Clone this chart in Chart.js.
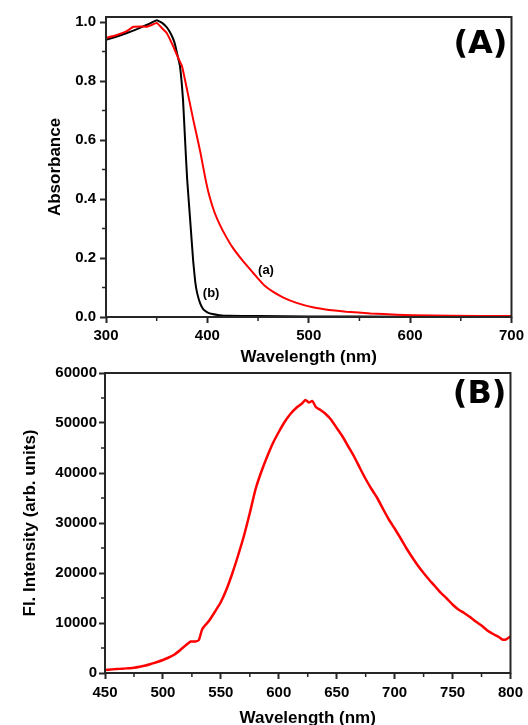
<!DOCTYPE html>
<html lang="en">
<head>
<meta charset="UTF-8">
<title>Absorbance and fluorescence</title>
<script src="https://cdn.jsdelivr.net/npm/chart.js"></script>
<style>
  body { margin: 0; background: #fff; width: 528px; height: 725px; overflow: hidden; position: relative; }
  .painel { position: absolute; left: 0; width: 528px; }
  #painelA { top: 0; }
  #painelB { top: 360px; }
</style>
</head>
<body>
<div class="painel" id="painelA"><canvas id="graficoA" width="528" height="375"></canvas></div>
<div class="painel" id="painelB"><canvas id="graficoB" width="528" height="380"></canvas></div>

<script>
// (A) curva (a) - vermelha
const ondaA_a = [300, 310, 320, 327, 335, 340, 345, 350, 355, 360, 366, 371, 375, 380, 386, 393, 398, 402, 407, 412, 418, 425, 435, 445, 450, 456, 465, 475, 488, 505, 520, 537, 561, 587, 603, 640, 700];
const absA_a  = [0.946, 0.955, 0.968, 0.984, 0.985, 0.984, 0.990, 0.997, 0.980, 0.962, 0.920, 0.880, 0.850, 0.770, 0.670, 0.560, 0.470, 0.410, 0.355, 0.315, 0.275, 0.235, 0.190, 0.150, 0.130, 0.108, 0.085, 0.066, 0.048, 0.032, 0.024, 0.018, 0.012, 0.008, 0.006, 0.004, 0.003];

// (A) curva (b) - preta
const ondaA_b = [300, 310, 320, 330, 340, 345, 350, 355, 360, 363, 366, 368, 370, 373, 376, 378, 380, 383, 386, 388, 390, 393, 396, 400, 405, 412, 420, 450, 500, 600, 700];
const absA_b  = [0.940, 0.950, 0.962, 0.975, 0.990, 0.998, 1.006, 0.998, 0.982, 0.966, 0.945, 0.925, 0.895, 0.850, 0.735, 0.600, 0.470, 0.330, 0.190, 0.120, 0.080, 0.045, 0.026, 0.016, 0.010, 0.006, 0.004, 0.003, 0.002, 0.001, 0.001];

// (B) fluorescencia
const ondaB = [450, 455, 460, 465, 470, 475, 480, 485, 490, 495, 500, 505, 510, 515, 520, 524, 528, 531, 534, 540, 545, 550, 555, 560, 565, 570, 575, 580, 585, 590, 595, 600, 605, 610, 615, 620, 623, 626, 629, 632, 636, 640, 645, 650, 655, 660, 665, 670, 675, 680, 685, 690, 695, 700, 705, 710, 715, 720, 725, 730, 735, 740, 745, 750, 755, 760, 765, 770, 775, 780, 785, 790, 793, 796, 800];
const intensB = [600, 700, 800, 850, 950, 1050, 1250, 1500, 1850, 2200, 2600, 3100, 3700, 4600, 5600, 6300, 6300, 6600, 8800, 10500, 12300, 14200, 16800, 20000, 23600, 27500, 32000, 36800, 40300, 43300, 46000, 48200, 50200, 51800, 53000, 53900, 54600, 54100, 54400, 53200, 52600, 51900, 50700, 49000, 47300, 45300, 43300, 41000, 38800, 36800, 35000, 32800, 30700, 28900, 27000, 25000, 23200, 21500, 20000, 18600, 17300, 16000, 14900, 13700, 12700, 12000, 11200, 10300, 9500, 8500, 7800, 7200, 6700, 6700, 7300];

// eixos
const xTicksA = { min: 300, max: 700, passo: 100 };
const yTicksA = { min: 0, max: 1.017, passo: 0.2 };
const xTicksB = { min: 450, max: 800, passo: 50 };
const yTicksB = { min: 0, max: 60000, passo: 10000 };

const fonteTick = { family: 'Liberation Sans', size: 15, weight: 'bold' };
const fonteTitulo = { family: 'Liberation Sans', size: 17, weight: 'bold' };
const corEixo = '#262626';

function pares(xs, ys) {
    return xs.map((v, i) => ({ x: v, y: ys[i] }));
}

function menores(t) {
    let lista = [];
    for (let v = t.min + t.passo / 2; v < t.max; v += t.passo) lista.push(v);
    return lista;
}

// moldura, ticks menores, letra do painel e rotulos das curvas
const moldura = {
    id: 'moldura',
    afterDraw(chart, args, opts) {
        const { ctx, chartArea: a, scales: { x, y } } = chart;
        ctx.save();
        ctx.strokeStyle = corEixo;
        ctx.lineWidth = 2;
        ctx.strokeRect(a.left, a.top, a.right - a.left, a.bottom - a.top);

        ctx.lineWidth = 1.5;
        ctx.beginPath();
        menores(opts.tx).forEach(v => {
            const px = x.getPixelForValue(v);
            ctx.moveTo(px, a.bottom);
            ctx.lineTo(px, a.bottom + 4);
        });
        menores(opts.ty).forEach(v => {
            const py = y.getPixelForValue(v);
            ctx.moveTo(a.left, py);
            ctx.lineTo(a.left - 4, py);
        });
        ctx.stroke();

        ctx.fillStyle = '#000';
        ctx.font = 'bold 32px "DejaVu Sans"';
        ctx.textAlign = 'right';
        ctx.textBaseline = 'alphabetic';
        ctx.fillText(opts.letra, a.right - 4, a.top + opts.baseLetra);

        ctx.font = 'bold 13px "Liberation Sans"';
        ctx.textAlign = 'left';
        ctx.textBaseline = 'middle';
        (opts.rotulos || []).forEach(r => {
            ctx.fillText(r.texto, x.getPixelForValue(r.x), y.getPixelForValue(r.y));
        });
        ctx.restore();
    }
};

function escalas(tx, ty, cfg) {
    return {
        x: {
            type: 'linear', min: tx.min, max: tx.max,
            ticks: { stepSize: tx.passo, font: fonteTick, color: '#000', padding: cfg.padX, maxRotation: 0 },
            grid: { drawOnChartArea: false, tickLength: 6, tickColor: corEixo, tickWidth: 2 },
            border: { display: false },
            title: { display: true, text: 'Wavelength (nm)', font: fonteTitulo, color: '#000', padding: { top: 0, bottom: cfg.tituloX } },
            afterFit: s => { s.height = cfg.altX; }
        },
        y: {
            type: 'linear', min: ty.min, max: ty.max,
            ticks: { stepSize: ty.passo, includeBounds: false, font: fonteTick, color: '#000', padding: cfg.padY, callback: cfg.fmtY },
            grid: { drawOnChartArea: false, tickLength: 6, tickColor: corEixo, tickWidth: 2 },
            border: { display: false },
            title: { display: true, text: cfg.tituloY, font: fonteTitulo, color: '#000', padding: { top: cfg.tituloYPad, bottom: 0 } },
            afterFit: s => { s.width = cfg.largY; }
        }
    };
}

new Chart(document.getElementById('graficoA'), {
    type: 'line',
    data: {
        datasets: [
            { label: '(a)', data: pares(ondaA_a, absA_a), borderColor: '#ff0000', borderWidth: 2, pointRadius: 0, tension: 0.1 },
            { label: '(b)', data: pares(ondaA_b, absA_b), borderColor: '#000000', borderWidth: 2, pointRadius: 0, tension: 0.1 }
        ]
    },
    options: {
        responsive: false,
        animation: false,
        layout: { padding: { top: 17, right: 16, left: 0, bottom: 0 } },
        scales: escalas(xTicksA, yTicksA, {
            padX: 4, padY: 4, altX: 58, largY: 106, tituloX: 7,
            tituloY: 'Absorbance', tituloYPad: 45,
            fmtY: v => v.toFixed(1)
        }),
        plugins: {
            legend: { display: false },
            tooltip: { enabled: false },
            moldura: {
                tx: xTicksA, ty: { min: 0, max: 1.0, passo: 0.2 }, letra: '(A)', baseLetra: 36,
                rotulos: [{ texto: '(a)', x: 450, y: 0.159 }, { texto: '(b)', x: 395.5, y: 0.081 }]
            }
        }
    },
    plugins: [moldura]
});

new Chart(document.getElementById('graficoB'), {
    type: 'line',
    data: {
        datasets: [
            { label: 'FL', data: pares(ondaB, intensB), borderColor: '#ff0000', borderWidth: 2.5, pointRadius: 0, tension: 0.2 }
        ]
    },
    options: {
        responsive: false,
        animation: false,
        layout: { padding: { top: 13, right: 17, left: 0, bottom: 0 } },
        scales: escalas(xTicksB, yTicksB, {
            padX: 5, padY: 2, altX: 67, largY: 105, tituloX: 11,
            tituloY: 'Fl. Intensity (arb. units)', tituloYPad: 20,
            fmtY: v => String(v)
        }),
        plugins: {
            legend: { display: false },
            tooltip: { enabled: false },
            moldura: { tx: xTicksB, ty: yTicksB, letra: '(B)', baseLetra: 30 }
        }
    },
    plugins: [moldura]
});
</script>
</body>
</html>
